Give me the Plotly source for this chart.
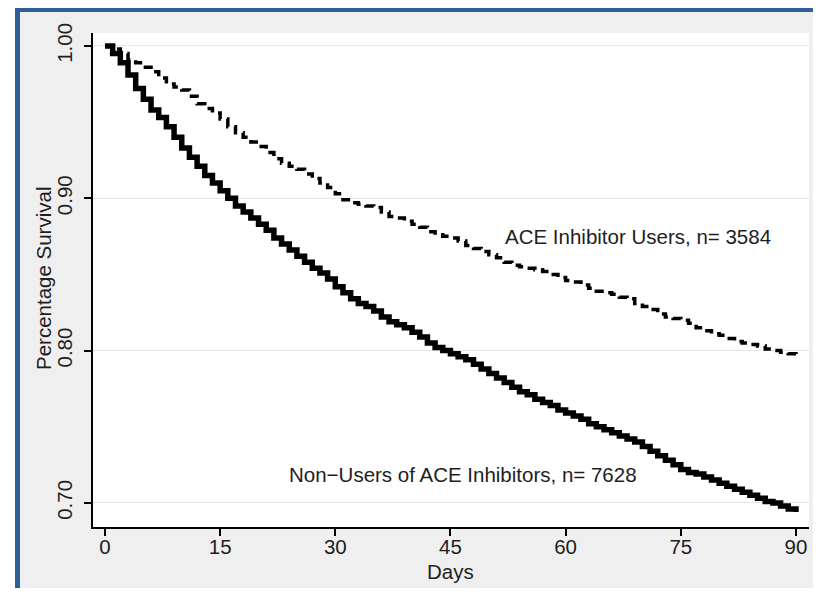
import plotly.graph_objects as go

days = list(range(0, 91))

non_users = [
    1.000, 0.995, 0.989, 0.981, 0.972, 0.965, 0.958, 0.953, 0.947, 0.940,
    0.933, 0.927, 0.921, 0.915, 0.910, 0.905, 0.900, 0.895, 0.891, 0.887,
    0.883, 0.879, 0.874, 0.870, 0.866, 0.862, 0.858, 0.854, 0.851, 0.847,
    0.842, 0.838, 0.834, 0.831, 0.829, 0.826, 0.822, 0.819, 0.817, 0.815,
    0.812, 0.809, 0.805, 0.802, 0.800, 0.798, 0.796, 0.794, 0.791, 0.788,
    0.785, 0.782, 0.779, 0.776, 0.773, 0.771, 0.768, 0.766, 0.764, 0.761,
    0.759, 0.757, 0.755, 0.752, 0.750, 0.748, 0.746, 0.744, 0.742, 0.740,
    0.737, 0.734, 0.731, 0.728, 0.725, 0.722, 0.720, 0.719, 0.717, 0.715,
    0.713, 0.711, 0.709, 0.707, 0.705, 0.703, 0.701, 0.700, 0.698, 0.696,
    0.694,
]

ace_users = [
    1.000, 0.998, 0.995, 0.991, 0.989, 0.986, 0.983, 0.979, 0.975, 0.973,
    0.971, 0.967, 0.962, 0.959, 0.956, 0.952, 0.947, 0.943, 0.940, 0.937,
    0.934, 0.930, 0.926, 0.923, 0.921, 0.919, 0.916, 0.913, 0.910, 0.907,
    0.903, 0.899, 0.897, 0.896, 0.895, 0.894, 0.891, 0.888, 0.887, 0.885,
    0.883, 0.881, 0.878, 0.876, 0.875, 0.874, 0.872, 0.869, 0.867, 0.865,
    0.863, 0.861, 0.858, 0.856, 0.855, 0.854, 0.853, 0.852, 0.850, 0.848,
    0.846, 0.845, 0.843, 0.841, 0.839, 0.838, 0.837, 0.835, 0.834, 0.831,
    0.829, 0.827, 0.824, 0.822, 0.821, 0.820, 0.818, 0.815, 0.813, 0.811,
    0.810, 0.808, 0.806, 0.805, 0.804, 0.803, 0.801, 0.800, 0.799, 0.798,
    0.797,
]

x_ticks = [0, 15, 30, 45, 60, 75, 90]
y_ticks = [0.70, 0.80, 0.90, 1.00]
y_tick_labels = ["0.70", "0.80", "0.90", "1.00"]

x_title = "Days"
y_title = "Percentage Survival"
label_users = "ACE Inhibitor Users, n= 3584"
label_non = "Non\u2212Users of ACE Inhibitors, n= 7628"

# page is offset by the default 8px body margin
OFF = 8
W, H = 821 - OFF, 592 - OFF
L, R, T, B = 93 - OFF, 809 - OFF, 33 - OFF, 527 - OFF
FONT = "Liberation Sans, Arial, sans-serif"
TXT = "#1e1e1e"
FS = 20.5


def px_x(px):
    return (px - OFF - L) / (R - L)


def px_y(py):
    return (B - (py - OFF)) / (B - T)


fig = go.Figure()
fig.add_trace(go.Scatter(
    x=days, y=non_users, mode="lines", line_shape="hv",
    line=dict(color="black", width=5.5), showlegend=False,
))
fig.add_trace(go.Scatter(
    x=days, y=ace_users, mode="lines", line_shape="hv",
    line=dict(color="black", width=3.5, dash="9px,6px"), showlegend=False,
))

fig.add_annotation(x=51.8, y=0.8748, text=label_users, showarrow=False,
                   xanchor="left", yanchor="middle",
                   font=dict(family=FONT, size=FS, color=TXT))
fig.add_annotation(x=23.7, y=0.7187, text=label_non, showarrow=False,
                   xanchor="left", yanchor="middle",
                   font=dict(family=FONT, size=FS, color=TXT))
# axis titles
fig.add_annotation(xref="paper", yref="paper", x=px_x(450), y=px_y(571),
                   text=x_title, showarrow=False, xanchor="center",
                   yanchor="middle", font=dict(family=FONT, size=FS, color=TXT))
fig.add_annotation(xref="paper", yref="paper", x=px_x(43), y=px_y(279),
                   text=y_title, showarrow=False, textangle=-90,
                   xanchor="center", yanchor="middle",
                   font=dict(family=FONT, size=FS, color=TXT))


def px_rect(x0, y0, x1, y1, color):
    return dict(type="rect", xref="paper", yref="paper",
                x0=px_x(x0), x1=px_x(x1), y0=px_y(y0), y1=px_y(y1),
                fillcolor=color, line=dict(width=0), layer="above")


frame_shapes = [
    px_rect(0, 0, 15, 600, "white"),
    px_rect(0, 588, 830, 600, "white"),
    px_rect(15, 0, 830, 12, "#2e5f95"),
    px_rect(15, 0, 20, 588, "#2e5f95"),
]

fig.update_layout(
    width=W, height=H,
    margin=dict(l=L, r=W - R, t=T, b=H - B),
    paper_bgcolor="#efefef",
    plot_bgcolor="white",
    font=dict(family=FONT, size=FS, color=TXT),
    shapes=frame_shapes,
    xaxis=dict(
        range=[-1.56, 91.7], tickvals=x_ticks, ticks="outside", ticklen=7,
        tickwidth=1.5, tickcolor="black", showline=True, linecolor="black",
        linewidth=2, showgrid=False, zeroline=False, automargin=False,
        ticklabelstandoff=-7,
        tickfont=dict(size=FS),
    ),
    yaxis=dict(
        range=[0.6842, 1.0085], tickvals=y_ticks, ticktext=y_tick_labels,
        tickangle=-90, ticks="outside", ticklen=7, tickwidth=1.5,
        tickcolor="black", showline=True, linecolor="black", linewidth=2,
        showgrid=True, gridcolor="#e6e6e6", gridwidth=1, zeroline=False,
        automargin=False, ticklabelstandoff=4,
        tickfont=dict(size=FS),
    ),
)

fig.write_html("out.html")
